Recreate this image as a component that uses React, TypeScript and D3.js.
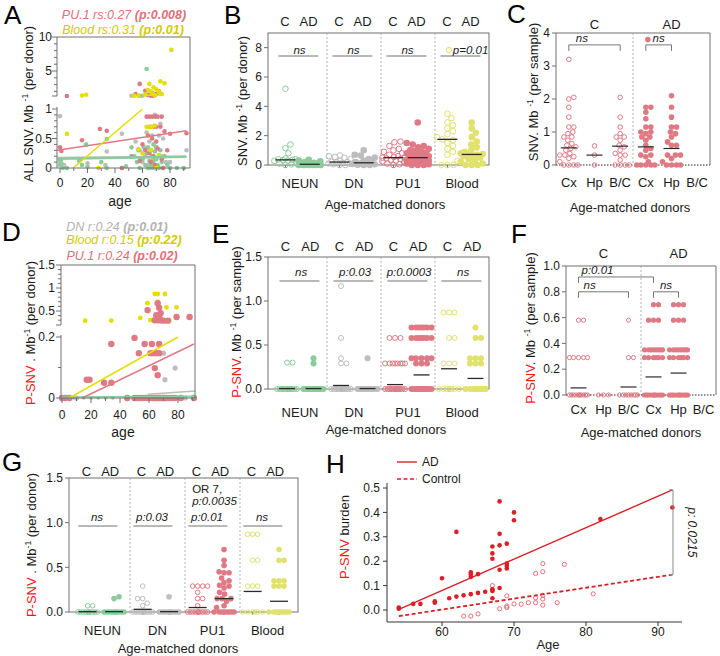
import React from 'react';
import * as d3 from 'd3';

type Pt = [number, number];

const FONT = '"Liberation Sans", Arial, Helvetica, sans-serif';
const PINK = '#df7a84';
const GREEN = '#8ccb9b';
const GREY = '#bdbdbd';
const YELLOW = '#e1e16e';
const YELLOW_SC = '#e3df00';
const SNV_RED = '#f2161b';
const H_RED = '#dc1f26';
const H_PINK = '#e8616a';
const AXIS = '#707070';
const INK = '#1b1b1b';
const PINK_TXT = '#e06f7b';
const YEL_TXT = '#d2cb00';
const GREY_TXT = '#b3b3b3';

// ---------- categories / ticks ----------
const GROUPS = ['NEUN', 'DN', 'PU1', 'Blood'];
const GROUP_COLORS = [GREEN, GREY, PINK, YELLOW];
const REGIONS = ['Cx', 'Hp', 'B/C'];
const AGE_TICKS = [0, 20, 40, 60, 80];
const AGE_MINOR = [10, 30, 50, 70, 90];

// ---------- Panel A : ALL SNV per donor vs age ----------
const aNeun: Pt[] = [[0,0.12],[0,0.05],[1,0.08],[2,0.0],[5,0.0],[14,0.12],[16,0.05],[19,0.4],[20,0.02],[30,0.1],[34,0.49],[34,0.0],[45,0.0],[48,0.03],[52,0.35],[54,0.2],[56,0.1],[57,0.3],[58,0.0],[60,0.15],[61,0.35],[62,0.05],[63,5.3],[63,0.25],[64,0.0],[64,0.35],[65,0.12],[66,0.3],[66,0.05],[67,0.2],[67,0.0],[68,0.4],[68,0.1],[69,0.28],[69,0.0],[70,0.15],[70,0.35],[71,0.05],[72,0.2],[72,0.0],[73,0.3],[74,0.1],[75,0.0],[76,0.2],[78,0.05],[80,0.0],[85,0.0],[90,0.0],[66,1.35],[58,1.35]];
const aDn: Pt[] = [[0,0.88],[1,0.15],[3,0.05],[14,0.15],[20,0.08],[33,0.05],[34,0.28],[45,0.58],[52,1.35],[60,1.35],[55,0.45],[58,0.3],[60,0.1],[62,0.2],[63,0.6],[64,0.05],[65,0.45],[66,0.3],[66,0.0],[67,0.55],[68,0.15],[69,0.9],[70,0.35],[71,0.0],[72,0.55],[73,0.75],[74,0.2],[75,0.5],[77,0.1],[80,0.1],[92,0.3],[64,1.45],[70,1.6]];
const aPu1: Pt[] = [[0,0.35],[1,0.29],[5,1.32],[16,0.47],[29,0.66],[34,0.63],[45,0.0],[52,0.2],[55,1.6],[58,3.1],[60,0.4],[62,2.1],[62,0.3],[63,0.87],[64,1.5],[64,0.55],[65,0.87],[65,0.25],[66,1.4],[66,0.7],[67,0.87],[67,1.8],[67,0.5],[68,1.35],[68,0.7],[68,0.2],[69,0.87],[69,0.05],[70,1.6],[70,0.7],[70,0.45],[71,0.87],[71,0.33],[72,2.0],[73,0.7],[74,0.87],[74,0.15],[75,0.0],[76,0.62],[78,0.3],[80,0.58],[92,0.59],[66,0.1],[58,0.12]];
const aBlood: Pt[] = [[5,0.58],[16,1.4],[19,1.5],[28,0.0],[54,1.35],[57,1.35],[57,0.32],[60,0.25],[62,1.55],[63,0.7],[64,2.2],[65,3.1],[65,0.7],[66,2.0],[66,0.3],[67,1.7],[67,0.7],[68,2.6],[69,1.45],[69,0.72],[70,2.3],[72,1.9],[72,0.22],[73,3.5],[74,1.6],[76,3.2],[81,8.1],[70,0.0]];
const aTrendPu1: Pt[] = [[-2, 0.3], [92, 0.63]];
const aTrendDn: Pt[] = [[-2, 0.18], [92, 0.2]];
const aTrendNeun: Pt[] = [[-2, 0.155], [92, 0.19]];
const aTrendBlood: Pt[] = [[9.5, 0.0], [60, 1.0]];
const aTrendBloodHi: Pt[] = [[62, 1.42], [75, 1.45]];
const aMajorHi = [5, 10];
const aMinorHi = [2, 3, 4, 6, 7, 8, 9];
const aMajorLo = [0, 0.5, 1];
const aMinorLo = [0.1, 0.2, 0.3, 0.4, 0.6, 0.7, 0.8, 0.9];

// ---------- Panel D : P-SNV per donor vs age ----------
const dNeun: Pt[] = [[0,0],[2,0],[8,0],[15,0],[20,0],[25,0],[30,0],[35,0],[45,0],[50,0],[55,0],[60,0],[62,0],[65,0],[68,0],[70,0],[72,0],[75,0],[80,0],[85,0],[90,0]];
const dDn: Pt[] = [[70,0.147],[78,0.098],[71,0.06],[10,0],[45,0],[60,0],[65,0],[70,0],[75,0],[85,0]];
const dBlood: Pt[] = [[16,0.29],[34,0.29],[54,0.35],[59,0.67],[59,0.5],[64,0.87],[66,0.87],[71,0.87],[66,0.7],[72,0.58],[79,0.58],[61,0.3],[63,0.3],[65,0.32],[67,0.3],[69,0.3],[74,0.3]];
const dPu1: Pt[] = [[0,0],[2,0],[5,0],[45,0],[50,0],[52,0],[54,0],[56,0],[58,0],[60,0],[62,0],[63,0],[64,0],[65,0],[66,0],[67,0],[68,0],[69,0],[70,0],[71,0],[72,0],[74,0],[76,0],[78,0],[82,0],[91,0],
  [17,0.06],[19,0.06],[29,0.05],[34,0.05],[34,0.177],[50,0.197],[53,0.147],[57,0.177],[62,0.177],[67,0.177],[61,0.147],[63,0.147],[65,0.147],[67,0.147],[64,0.098],[66,0.075],
  [59,0.52],[65,0.41],[66,0.67],[67,0.57],[67,0.37],[68,0.45],[64,0.3],[66,0.3],[68,0.3],[70,0.29],[73,0.29],[79,0.37],[88,0.37]];
const dTrendBlood: Pt[] = [[5, 0], [80, 0.2]];
const dTrendPu1: Pt[] = [[14, 0], [91, 0.177]];
const dTrendDn: Pt[] = [[59, 0.012], [92, 0.023]];
const dTrendNeun: Pt[] = [[0, 0.003], [92, 0.006]];
const dMajorHi = [0.5, 1, 1.5];
const dMinorHi = [0.6, 0.7, 0.8, 0.9, 1.1, 1.2, 1.3, 1.4, 0.3, 0.4];
const dMajorLo = [0, 0.2];
const dMinorLo = [0.1];

// ---------- Panel B : SNV per donor by cell type ----------
const bC = [
  [5.2,1.4,1.15,0.8,0.45,0.4,0.38,0.35,0.33,0.3,0.28,0.2,0.1,0.05,0],
  [0.65,0.6,0.55,0.5,0.4,0.3,0.22,0.2,0.18,0.15,0.1,0.08,0.05,0,0],
  [1.6,1.55,1.3,1.1,1.0,0.9,0.8,0.7,0.6,0.55,0.5,0.5,0.45,0.4,0.35,0.3,0.25,0.2,0.1,0.05,0],
  [3.5,3.2,2.9,2.7,2.5,2.3,2.1,1.9,1.75,1.7,1.5,1.3,1.1,0.9,0.7,0.3,0,0,0],
];
const bAD = [
  [0.35,0.3,0.25,0.2,0.15,0.1,0.05,0.03,0.02,0,0,0,0,0,0.01],
  [1.0,0.7,0.65,0.5,0.4,0.3,0.2,0.15,0.12,0.1,0.08,0.05,0.02,0,0],
  [2.9,1.5,1.4,1.3,1.2,1.1,1.0,0.95,0.9,0.85,0.8,0.7,0.65,0.6,0.55,0.5,0.5,0.45,0.4,0.35,0.3,0.3,0.25,0.2,0.15,0.1,0.05,0,0,0,0.2,0.4,0.6],
  [2.9,2.5,2.2,1.9,1.6,1.4,1.2,1.0,0.9,0.8,0.7,0.65,0.6,0.5,0.4,0.3,0.2,0.1,0,0,0,0.7,0.75],
];
const bMeanC = [0.35, 0.2, 0.5, 1.75];
const bMeanAD = [0.05, 0.15, 0.5, 0.72];
const bSig = ['ns', 'ns', 'ns', 'p=0.01'];
const bTicks = [0, 2, 4, 6, 8];

// ---------- Panel E : P-SNV per sample by cell type ----------
const Z = (n: number) => new Array(n).fill(0);
const R = (v: number, n: number) => new Array(n).fill(v);
const eC = [
  [0.3, 0.3, ...Z(12)],
  [1.17, 0.58, 0.35, 0.29, 0.29, ...Z(12)],
  [...R(0.58, 3), ...R(0.29, 8), ...Z(12)],
  [...R(0.87, 3), 0.58, 0.58, ...R(0.29, 3), ...Z(7)],
];
const eAD = [
  [0.29, 0.35, ...Z(12)],
  [0.35, ...Z(12)],
  [...R(0.7, 7), ...R(0.58, 7), ...R(0.35, 5), ...R(0.29, 3), ...Z(12)],
  [0.7, 0.58, 0.58, ...R(0.35, 3), ...R(0.29, 3), ...Z(8)],
];
const eMeanC = [0.005, 0.04, 0.05, 0.23];
const eMeanAD = [0.005, 0.005, 0.16, 0.12];
const eSig = ['ns', 'p:0.03', 'p:0.0003', 'ns'];
const eTicks = [0, 0.5, 1.0, 1.5];

// ---------- Panel G : P-SNV per donor by cell type ----------
const gC = [
  [0.07, 0.07, ...Z(10)],
  [0.29, 0.15, 0.15, 0.1, 0.07, ...Z(10)],
  [0.29, 0.29, 0.29, 0.29, 0.22, 0.15, 0.15, 0.07, ...Z(10)],
  [...R(0.87, 3), 0.58, 0.58, ...R(0.29, 3), ...Z(6)],
];
const gAD = [
  [0.15, 0.17, ...Z(10)],
  [0.17, ...Z(10)],
  [0.7,0.58,0.52,0.45,0.44,0.44,0.38,0.35,0.33,0.3,0.29,0.27,0.22,0.2,0.15,0.15,0.15,0.12,0.07,0.05, ...Z(8)],
  [0.7, 0.58, 0.58, ...R(0.35, 3), ...R(0.29, 3), ...Z(8)],
];
const gMeanC = [0.004, 0.03, 0.05, 0.23];
const gMeanAD = [0.004, 0.004, 0.15, 0.12];
const gSig = ['ns', 'p:0.03', 'p:0.01', 'ns'];
const gExtra = ['OR 7,', 'p:0.0035'];

// ---------- Panel C : SNV per sample by region ----------
const cVals = [
  [3.2,2.05,2.0,1.75,1.45,1.15,1.15,1.0,0.95,0.85,0.85,0.75,0.65,0.6,0.55,0.5,0.45,0.35,0.3,0.3,0.25,0.2,0.1,0,0,0,0],
  [0.58, 0.3, 0],
  [2.05,1.45,1.15,0.95,0.85,0.85,0.75,0.6,0.55,0.45,0.35,0.3,0.3,0.15,0,0,0,0],
  [1.75,1.75,1.6,1.4,1.15,1.15,1.0,1.0,0.95,0.85,0.85,0.75,0.6,0.5,0.45,0.3,0.3,0.25,0.1,0,0,0,0,0],
  [2.1,1.75,1.45,1.15,1.15,1.0,0.95,0.85,0.7,0.6,0.6,0.3,0.3,0.3,0.2,0.1,0,0,0,0],
  [],
];
const cMeans = [0.52, 0.3, 0.57, 0.55, 0.5, NaN];
const cTicks = [0, 1, 2, 3, 4];

// ---------- Panel F : P-SNV per sample by region ----------
const fVals = [
  [0.58, 0.58, ...R(0.29, 5), ...Z(10)],
  [0, 0, 0],
  [0.58, 0.29, 0.29, ...Z(8)],
  [0.7, 0.7, ...R(0.58, 3), ...R(0.35, 8), ...R(0.29, 6), ...Z(10)],
  [0.7, 0.7, 0.7, ...R(0.58, 3), ...R(0.35, 8), ...R(0.29, 6), ...Z(10)],
  [],
];
const fMeans = [0.055, NaN, 0.062, 0.14, 0.17, NaN];
const fTicks = [0, 0.2, 0.4, 0.6, 0.8, 1.0];

// ---------- Panel H : P-SNV burden vs age ----------
const hAD: Pt[] = [[54,0.005],[54,0.01],[56,0.025],[57,0.025],[59,0.03],[59,0.036],[60,0.13],[61,0.048],[62,0.32],[62,0.055],[63,0.06],[64,0.155],[64,0.145],[64,0.135],[64,0.065],[65,0.147],[65,0.07],[66,0.075],[67,0.26],[67,0.232],[67,0.21],[67,0.085],[67,0.078],[67,0.048],[68,0.445],[68,0.312],[68,0.265],[68,0.165],[68,0.09],[69,0.272],[69,0.19],[69,0.18],[69,0.17],[70,0.4],[70,0.368],[82,0.373],[92,0.42]];
const hCtrl: Pt[] = [[63,-0.025],[64,-0.025],[65,-0.016],[67,0.1],[67,0.082],[68,0.005],[69,0.058],[69,0.016],[69,0.01],[70,0.025],[71,0.024],[72,0.03],[73,0.15],[73,0.05],[73,0.03],[74,0.19],[74,0.157],[74,0.06],[74,0.045],[74,0.02],[76,0.03],[77,0.187],[81,0.066]];
const hTrendAD: Pt[] = [[54, 0.003], [92, 0.492]];
const hTrendCtrl: Pt[] = [[54, -0.025], [92, 0.145]];
const hYTicks = [0, 0.1, 0.2, 0.3, 0.4, 0.5];
const hXTicks = [60, 70, 80, 90];

// ---------- helpers ----------
function swarm(ys: number[], r: number, maxHalf: number, k = 0.88): number[] {
  const idx = ys.map((_, i) => i).sort((a, b) => ys[b] - ys[a]);
  const placed: [number, number][] = [];
  const out = new Array(ys.length).fill(0);
  const dmin = 2 * r * k;
  for (const i of idx) {
    const y = ys[i];
    let best = 0;
    let bestD = -1;
    for (let s = 0; s <= maxHalf * 4; s++) {
      const m = Math.ceil(s / 2) * 0.5;
      const off = s % 2 === 1 ? m : -m;
      let md = Infinity;
      for (const [px, py] of placed) {
        const d = Math.hypot(px - off, py - y);
        if (d < md) md = d;
      }
      if (md >= dmin) { best = off; break; }
      if (md > bestD + 1e-6) { bestD = md; best = off; }
    }
    placed.push([best, y]);
    out[i] = best;
  }
  return out;
}

function Dots({ cx, vals, y, r, maxHalf, color, filled }: any) {
  const ys = vals.map((v: number) => y(v));
  const offs = swarm(ys, r, maxHalf);
  return (
    <g>
      {vals.map((v: number, i: number) => (
        <circle key={i} cx={cx + offs[i]} cy={ys[i]} r={filled ? r : r - 0.5}
          fill={filled ? color : 'none'} stroke={color} strokeWidth={filled ? 0 : 1} />
      ))}
    </g>
  );
}

function YLabel({ x, y, red, pre, post, size = 13 }: any) {
  return (
    <text transform={`translate(${x},${y}) rotate(-90)`} textAnchor="middle" fontSize={size} fill={INK}>
      {red ? <tspan fill={SNV_RED}>{red}</tspan> : null}
      <tspan>{pre}</tspan>
      <tspan dy={-5} fontSize={8.5}>-1</tspan>
      <tspan dy={5}>{post}</tspan>
    </text>
  );
}

function Letter({ x, y, t }: any) {
  return <text x={x} y={y} fontSize={26} fill="#000">{t}</text>;
}

// ---------- grouped strip panel (B, E, G) ----------
function GroupPanel(p: any) {
  const [L, Rr, T, B] = p.frame;
  const x = d3.scaleBand<string>().domain(GROUPS).range(p.band);
  const y = d3.scaleLinear().domain([0, p.top]).range([B, T]);
  const bw = x.bandwidth();
  return (
    <g fontFamily={FONT} fill={INK}>
      <rect x={L} y={T} width={Rr - L} height={B - T} fill="none" stroke={AXIS} strokeWidth={1} />
      {GROUPS.slice(1).map((g) => (
        <line key={g} x1={x(g)} x2={x(g)} y1={T} y2={B} stroke="#a8a8a8" strokeDasharray="2,2" strokeWidth={0.9} />
      ))}
      {p.ticks.map((t: number) => (
        <g key={t}>
          <line x1={L - 4} x2={L} y1={y(t)} y2={y(t)} stroke={AXIS} />
          <text x={p.tickX} y={y(t)} dy="0.35em" textAnchor="end" fontSize={12}>{p.fmt(t)}</text>
        </g>
      ))}
      {GROUPS.map((g, gi) => {
        const x0 = x(g)!;
        const cxC = x0 + bw * p.cOff;
        const cxA = x0 + bw * p.adOff;
        const col = GROUP_COLORS[gi];
        const marker = p.markerIndex === gi;
        return (
          <g key={g}>
            <text x={x0 + bw * p.hC} y={p.headerY} textAnchor="middle" fontSize={13}>C</text>
            <text x={x0 + bw * p.hAD} y={p.headerY} textAnchor="middle" fontSize={13}>AD</text>
            <line x1={cxC} x2={cxC} y1={B} y2={B + 3} stroke={AXIS} />
            <line x1={cxA} x2={cxA} y1={B} y2={B + 3} stroke={AXIS} />
            <text x={x0 + bw / 2} y={p.catY} textAnchor="middle" fontSize={13}>{g}</text>
            <line x1={x0 + bw * p.sigFrom} x2={x0 + bw * p.sigTo} y1={p.sigY} y2={p.sigY} stroke="#a0a0a0" strokeWidth={1.3} />
            {marker ? (
              <g>
                <circle cx={x0 + bw * 0.26} cy={p.sigTextY - 4} r={2.6} fill="none" stroke={YELLOW} strokeWidth={1} />
                <text x={x0 + bw * 0.33} y={p.sigTextY} fontSize={11.5} fontStyle="italic">{p.sig[gi]}</text>
              </g>
            ) : (
              <text x={x0 + bw * p.sigTextAt} y={p.sigTextY} textAnchor="middle" fontSize={11.5} fontStyle="italic">{p.sig[gi]}</text>
            )}
            {p.extraIndex === gi && p.extra.map((s: string, k: number) => (
              <text key={k} x={x0 + bw * 0.13} y={p.sigTextY - 28 + k * 12} fontSize={11.5} fontStyle={k === 0 ? 'normal' : 'italic'}>{s}</text>
            ))}
            <Dots cx={cxC} vals={p.cVals[gi]} y={y} r={p.r} maxHalf={p.maxHalf} color={col} filled={false} />
            <Dots cx={cxA} vals={p.adVals[gi]} y={y} r={p.r} maxHalf={p.maxHalf} color={col} filled={true} />
            <line x1={cxC - p.meanHalf} x2={cxC + p.meanHalf} y1={y(p.meanC[gi])} y2={y(p.meanC[gi])} stroke="#2a2a2a" strokeWidth={1.3} />
            <line x1={cxA - p.meanHalf} x2={cxA + p.meanHalf} y1={y(p.meanAD[gi])} y2={y(p.meanAD[gi])} stroke="#2a2a2a" strokeWidth={1.3} />
          </g>
        );
      })}
      <text x={p.titleX} y={p.titleY} textAnchor="middle" fontSize={13}>Age-matched donors</text>
      {p.ylabel}
    </g>
  );
}

// ---------- region strip panel (C, F) ----------
function RegionPanel(p: any) {
  const [L, Rr, T, B] = p.frame;
  const x = d3.scaleBand<number>().domain(d3.range(6)).range([L, Rr]);
  const y = d3.scaleLinear().domain([0, p.top]).range([B, T]);
  const bw = x.bandwidth();
  const cx = (i: number) => x(i)! + bw / 2;
  return (
    <g fontFamily={FONT} fill={INK}>
      <line x1={L} x2={Rr} y1={T} y2={T} stroke={AXIS} />
      <line x1={L} x2={L} y1={T} y2={B} stroke={AXIS} />
      <line x1={Rr} x2={Rr} y1={T} y2={B} stroke={AXIS} />
      <line x1={x(3)} x2={x(3)} y1={T} y2={B} stroke="#a8a8a8" strokeDasharray="2,2" strokeWidth={0.9} />
      {p.ticks.map((t: number) => (
        <g key={t}>
          <line x1={L - 4} x2={L} y1={y(t)} y2={y(t)} stroke={AXIS} />
          <text x={p.tickX} y={y(t)} dy="0.35em" textAnchor="end" fontSize={12}>{p.fmt(t)}</text>
        </g>
      ))}
      <text x={(L + x(3)!) / 2} y={p.headerY} textAnchor="middle" fontSize={13}>C</text>
      <text x={(x(3)! + Rr) / 2} y={p.headerY} textAnchor="middle" fontSize={13}>AD</text>
      <line x1={L} x2={Rr} y1={B} y2={B} stroke="#222" strokeDasharray="1.5,1.5" strokeWidth={1} />
      {d3.range(6).map((i) => (
        <g key={i}>
          <text x={cx(i)} y={p.catY} textAnchor="middle" fontSize={13}>{REGIONS[i % 3]}</text>
          <Dots cx={cx(i)} vals={p.vals[i]} y={y} r={p.r} maxHalf={p.maxHalf} color={PINK} filled={i >= 3} />
          {Number.isFinite(p.means[i]) ? (
            <line x1={cx(i) - p.meanHalf} x2={cx(i) + p.meanHalf} y1={y(p.means[i])} y2={y(p.means[i])} stroke="#2a2a2a" strokeWidth={1.2} />
          ) : null}
        </g>
      ))}
      {p.brackets.map((b: any, k: number) => {
        const x1 = cx(b.i0);
        const x2 = cx(b.i1);
        const yy = y(b.v);
        return (
          <g key={k}>
            <path d={`M${x1},${yy + 6}V${yy}H${x2}V${yy + 6}`} fill="none" stroke="#777" strokeWidth={1} />
            <text x={b.center ? (x1 + x2) / 2 : x1 + b.dx} y={yy - 2.5} textAnchor={b.center ? 'middle' : 'start'} fontSize={11.5} fontStyle="italic">{b.label}</text>
          </g>
        );
      })}
      {p.marker ? <circle cx={cx(p.marker.i) + 2} cy={y(p.marker.v)} r={2.8} fill={PINK} /> : null}
      <text x={p.titleX} y={p.titleY} textAnchor="middle" fontSize={13}>Age-matched donors</text>
      {p.ylabel}
    </g>
  );
}

// ---------- broken-axis scatter (A, D) ----------
function BrokenScatter(p: any) {
  const [L, Rr, T, B] = p.frame;
  const x = d3.scaleLinear().domain([0, 80]).range(p.xr);
  const yLo = d3.scaleLinear().domain(p.loDomain).range(p.loRange);
  const yHi = d3.scaleLinear().domain(p.hiDomain).range(p.hiRange);
  const yv = (v: number) => (v > p.split ? Math.min(yHi(v), p.hiBottom) : yLo(v));
  return (
    <g fontFamily={FONT} fill={INK}>
      {p.series.map((s: any, si: number) => (
        <g key={si}>
          {s.pts.map(([a, v]: Pt, i: number) => (
            <circle key={i} cx={x(a)} cy={yv(v)} r={s.r} fill={s.color} />
          ))}
        </g>
      ))}
      {p.trends.map((t: any, ti: number) => {
        const yy = t.hi ? yHi : yLo;
        return <line key={ti} x1={x(t.pts[0][0])} y1={yy(t.pts[0][1])} x2={x(t.pts[1][0])} y2={yy(t.pts[1][1])} stroke={t.color} strokeWidth={t.w} />;
      })}
      <line x1={L} x2={Rr} y1={T} y2={T} stroke={AXIS} />
      <line x1={Rr} x2={Rr} y1={T} y2={B} stroke={AXIS} />
      <line x1={L} x2={Rr} y1={B} y2={B} stroke={AXIS} />
      <line x1={L} x2={L} y1={T} y2={p.hiBottom} stroke={AXIS} />
      <line x1={L - 5} x2={L} y1={p.hiBottom} y2={p.hiBottom} stroke={AXIS} />
      <line x1={L} x2={L} y1={p.loTop} y2={B} stroke={AXIS} />
      {p.majorHi.map((t: number) => (
        <g key={'h' + t}>
          <line x1={L - 5} x2={L} y1={yHi(t)} y2={yHi(t)} stroke={AXIS} />
          <text x={p.tickX} y={yHi(t)} dy="0.35em" textAnchor="end" fontSize={12}>{p.fmt(t)}</text>
        </g>
      ))}
      {p.minorHi.map((t: number) => (yHi(t) <= p.hiBottom ? <line key={'mh' + t} x1={L - 3} x2={L} y1={yHi(t)} y2={yHi(t)} stroke={AXIS} /> : null))}
      {p.majorLo.map((t: number) => (
        <g key={'l' + t}>
          <line x1={L - 5} x2={L} y1={yLo(t)} y2={yLo(t)} stroke={AXIS} />
          <text x={p.tickX} y={yLo(t)} dy="0.35em" textAnchor="end" fontSize={12}>{p.fmt(t)}</text>
        </g>
      ))}
      {p.minorLo.map((t: number) => <line key={'ml' + t} x1={L - 3} x2={L} y1={yLo(t)} y2={yLo(t)} stroke={AXIS} />)}
      {AGE_TICKS.map((t) => (
        <g key={'x' + t}>
          <line x1={x(t)} x2={x(t)} y1={B} y2={B + 5} stroke={AXIS} />
          <text x={x(t)} y={p.xLabY} textAnchor="middle" fontSize={12}>{t}</text>
        </g>
      ))}
      {AGE_MINOR.map((t) => <line key={'xm' + t} x1={x(t)} x2={x(t)} y1={B} y2={B + 3} stroke={AXIS} />)}
      <text x={p.ageX} y={p.ageY} textAnchor="middle" fontSize={14}>age</text>
      {p.titles}
      {p.ylabel}
    </g>
  );
}

// ---------- Panel H ----------
function PanelH() {
  const x = d3.scaleLinear().domain([60, 90]).range([442, 658]);
  const y = d3.scaleLinear().domain([0, 0.5]).range([610, 488]);
  const line = d3.line<Pt>().x((d) => x(d[0])).y((d) => y(d[1]));
  const yTop = y(hTrendAD[1][1]);
  const yBot = y(hTrendCtrl[1][1]);
  return (
    <g fontFamily={FONT} fill={INK}>
      <line x1={387} x2={387} y1={483} y2={622} stroke="#333" />
      <line x1={387} x2={682} y1={622} y2={622} stroke="#333" />
      {hYTicks.map((t) => (
        <g key={t}>
          <line x1={383} x2={387} y1={y(t)} y2={y(t)} stroke="#333" />
          <text x={380} y={y(t)} dy="0.35em" textAnchor="end" fontSize={12}>{d3.format('.1f')(t)}</text>
        </g>
      ))}
      {hXTicks.map((t) => (
        <g key={t}>
          <line x1={x(t)} x2={x(t)} y1={622} y2={626} stroke="#333" />
          <text x={x(t)} y={636} textAnchor="middle" fontSize={12}>{t}</text>
        </g>
      ))}
      {hCtrl.map(([a, v], i) => <circle key={'c' + i} cx={x(a)} cy={y(v)} r={2.1} fill="none" stroke={H_PINK} strokeWidth={0.9} />)}
      {hAD.map(([a, v], i) => <circle key={'a' + i} cx={x(a)} cy={y(v)} r={2.3} fill={H_RED} />)}
      <path d={line(hTrendAD) || ''} stroke={H_RED} strokeWidth={1.4} fill="none" />
      <path d={line(hTrendCtrl) || ''} stroke={H_RED} strokeWidth={1.8} strokeDasharray="4,2.5" fill="none" />
      <path d={`M669,${yTop}H673V${yBot}H669`} fill="none" stroke="#888" strokeWidth={1} />
      <text transform={`translate(688,${(yTop + yBot) / 2}) rotate(90)`} textAnchor="middle" fontSize={12} fontStyle="italic">p: 0.0215</text>
      <line x1={397} x2={417} y1={462} y2={462} stroke={H_RED} strokeWidth={1.4} />
      <text x={422} y={466} fontSize={12}>AD</text>
      <line x1={397} x2={417} y1={479} y2={479} stroke={H_RED} strokeWidth={1.6} strokeDasharray="4,2.5" />
      <text x={422} y={483} fontSize={12}>Control</text>
      <text x={548} y={649} textAnchor="middle" fontSize={13}>Age</text>
      <text transform="translate(349,537) rotate(-90)" textAnchor="middle" fontSize={13}>
        <tspan fill={SNV_RED}>P-SNV</tspan> burden
      </text>
    </g>
  );
}

export default function App() {
  const f1 = d3.format('.1f');
  const fg = (v: number) => String(v);
  return (
    <svg width={720} height={656} viewBox="0 0 720 656"
      style={{ position: 'absolute', left: 0, top: 0, background: '#fff', fontFamily: FONT }}>
      <rect x={0} y={0} width={720} height={656} fill="#fff" />
      <g fontFamily={FONT}>
        <Letter x={4} y={24} t="A" />
        <Letter x={224} y={24} t="B" />
        <Letter x={507} y={23} t="C" />
        <Letter x={2} y={241} t="D" />
        <Letter x={212} y={243} t="E" />
        <Letter x={511} y={243} t="F" />
        <Letter x={2} y={471} t="G" />
        <Letter x={326} y={473} t="H" />
      </g>

      <BrokenScatter
        frame={[57, 190, 37, 168]} xr={[60, 170]}
        loDomain={[0, 1]} loRange={[168, 109]} hiDomain={[5, 10]} hiRange={[71, 37]}
        split={1.1} hiBottom={96} loTop={107}
        majorHi={aMajorHi} minorHi={aMinorHi} majorLo={aMajorLo} minorLo={aMinorLo}
        fmt={fg} tickX={52} xLabY={187} ageX={120} ageY={206}
        series={[
          { pts: aDn, color: GREY, r: 2.3 },
          { pts: aNeun, color: GREEN, r: 2.3 },
          { pts: aPu1, color: PINK, r: 2.3 },
          { pts: aBlood, color: YELLOW_SC, r: 2.3 },
        ]}
        trends={[
          { pts: aTrendDn, color: GREY, w: 1.5 },
          { pts: aTrendNeun, color: GREEN, w: 2.5 },
          { pts: aTrendPu1, color: PINK, w: 1.5 },
          { pts: aTrendBlood, color: YELLOW_SC, w: 1.5 },
          { pts: aTrendBloodHi, color: YELLOW_SC, w: 1.5, hi: true },
        ]}
        titles={
          <g fontSize={12.5} fontStyle="italic" textAnchor="middle">
            <text x={124} y={19} fill={PINK_TXT}>PU.1 rs:0.27 <tspan fontWeight="bold">(p:0.008)</tspan></text>
            <text x={123} y={34} fill={YEL_TXT}>Blood rs:0.31 <tspan fontWeight="bold">(p:0.01)</tspan></text>
          </g>
        }
        ylabel={<YLabel x={33} y={104} pre="ALL SNV. Mb " post=" (per donor)" />}
      />

      <BrokenScatter
        frame={[61, 195, 265, 398]} xr={[62, 178]}
        loDomain={[0, 0.2]} loRange={[398, 337]} hiDomain={[0.5, 1.5]} hiRange={[311, 265]}
        split={0.2} hiBottom={325} loTop={335}
        majorHi={dMajorHi} minorHi={dMinorHi} majorLo={dMajorLo} minorLo={dMinorLo}
        fmt={fg} tickX={55} xLabY={419} ageX={123} ageY={437}
        series={[
          { pts: dNeun, color: GREEN, r: 1.8 },
          { pts: dDn, color: GREY, r: 2.6 },
          { pts: dBlood, color: YELLOW_SC, r: 2.4 },
          { pts: dPu1, color: PINK, r: 3.2 },
        ]}
        trends={[
          { pts: dTrendNeun, color: GREEN, w: 1.5 },
          { pts: dTrendDn, color: GREY, w: 1.5 },
          { pts: dTrendBlood, color: YELLOW_SC, w: 1.5 },
          { pts: dTrendPu1, color: PINK, w: 1.5 },
        ]}
        titles={
          <g fontSize={12.5} fontStyle="italic" textAnchor="middle">
            <text x={117} y={231} fill={GREY_TXT}>DN r:0.24 <tspan fontWeight="bold">(p:0.01)</tspan></text>
            <text x={124} y={244} fill={YEL_TXT}>Blood r:0.15 <tspan fontWeight="bold">(p:0.22)</tspan></text>
            <text x={122} y={260} fill={PINK_TXT}>PU.1 r:0.24 <tspan fontWeight="bold">(p:0.02)</tspan></text>
          </g>
        }
        ylabel={<YLabel x={35} y={333} red="P-SNV" pre=" . Mb" post=" (per donor)" />}
      />

      <GroupPanel
        frame={[268, 489, 33, 165]} band={[273, 489]} top={9}
        ticks={bTicks} fmt={fg} tickX={262}
        cVals={bC} adVals={bAD} meanC={bMeanC} meanAD={bMeanAD}
        r={3.3} maxHalf={11} meanHalf={10}
        cOff={0.23} adOff={0.68} hC={0.22} hAD={0.66}
        headerY={26} catY={188} titleX={385} titleY={209}
        sigY={56} sigTextY={54} sig={bSig} sigFrom={0.1} sigTo={0.84} sigTextAt={0.49}
        markerIndex={3}
        ylabel={<YLabel x={247} y={101} pre="SNV. Mb " post=" (per donor)" />}
      />

      <GroupPanel
        frame={[268, 489, 257, 389]} band={[273, 489]} top={1.5}
        ticks={eTicks} fmt={f1} tickX={262}
        cVals={eC} adVals={eAD} meanC={eMeanC} meanAD={eMeanAD}
        r={3} maxHalf={10} meanHalf={8}
        cOff={0.26} adOff={0.75} hC={0.23} hAD={0.69}
        headerY={251} catY={417} titleX={386} titleY={434}
        sigY={281} sigTextY={276} sig={eSig} sigFrom={0.12} sigTo={0.86} sigTextAt={0.52}
        ylabel={<YLabel x={241} y={322} red="P-SNV" pre=". Mb " post=" (per sample)" />}
      />

      <GroupPanel
        frame={[69, 298, 478, 612]} band={[75, 295]} top={1.5}
        ticks={eTicks} fmt={f1} tickX={63}
        cVals={gC} adVals={gAD} meanC={gMeanC} meanAD={gMeanAD}
        r={2.8} maxHalf={10} meanHalf={9}
        cOff={0.23} adOff={0.71} hC={0.21} hAD={0.64}
        headerY={476} catY={635} titleX={178} titleY={653}
        sigY={526} sigTextY={521} sig={gSig} sigFrom={0.06} sigTo={0.77} sigTextAt={0.4}
        extraIndex={2} extra={gExtra}
        ylabel={<YLabel x={36} y={545} red="P-SNV" pre=" . Mb" post=" (per donor)" />}
      />

      <RegionPanel
        frame={[556, 710, 33, 165]} top={4} ticks={cTicks} fmt={fg} tickX={550}
        vals={cVals} means={cMeans} r={2.8} maxHalf={9} meanHalf={8}
        headerY={29} catY={187} titleX={630} titleY={212}
        brackets={[
          { i0: 0, i1: 2, v: 3.64, label: 'ns', dx: 7 },
          { i0: 3, i1: 4, v: 3.64, label: 'ns', center: true },
        ]}
        marker={{ i: 3, v: 3.8 }}
        ylabel={<YLabel x={538} y={92} pre="SNV. Mb " post=" (per sample)" />}
      />

      <RegionPanel
        frame={[566, 716, 266, 395]} top={1} ticks={fTicks} fmt={f1} tickX={560}
        vals={fVals} means={fMeans} r={2.6} maxHalf={9} meanHalf={8}
        headerY={258} catY={414} titleX={641} titleY={437}
        brackets={[
          { i0: 0, i1: 3, v: 0.915, label: 'p:0.01', dx: 3 },
          { i0: 0, i1: 2, v: 0.8, label: 'ns', dx: 5 },
          { i0: 3, i1: 4, v: 0.8, label: 'ns', center: true },
        ]}
        ylabel={<YLabel x={535} y={328} red="P-SNV" pre=". Mb " post=" (per sample)" />}
      />

      <PanelH />
    </svg>
  );
}
